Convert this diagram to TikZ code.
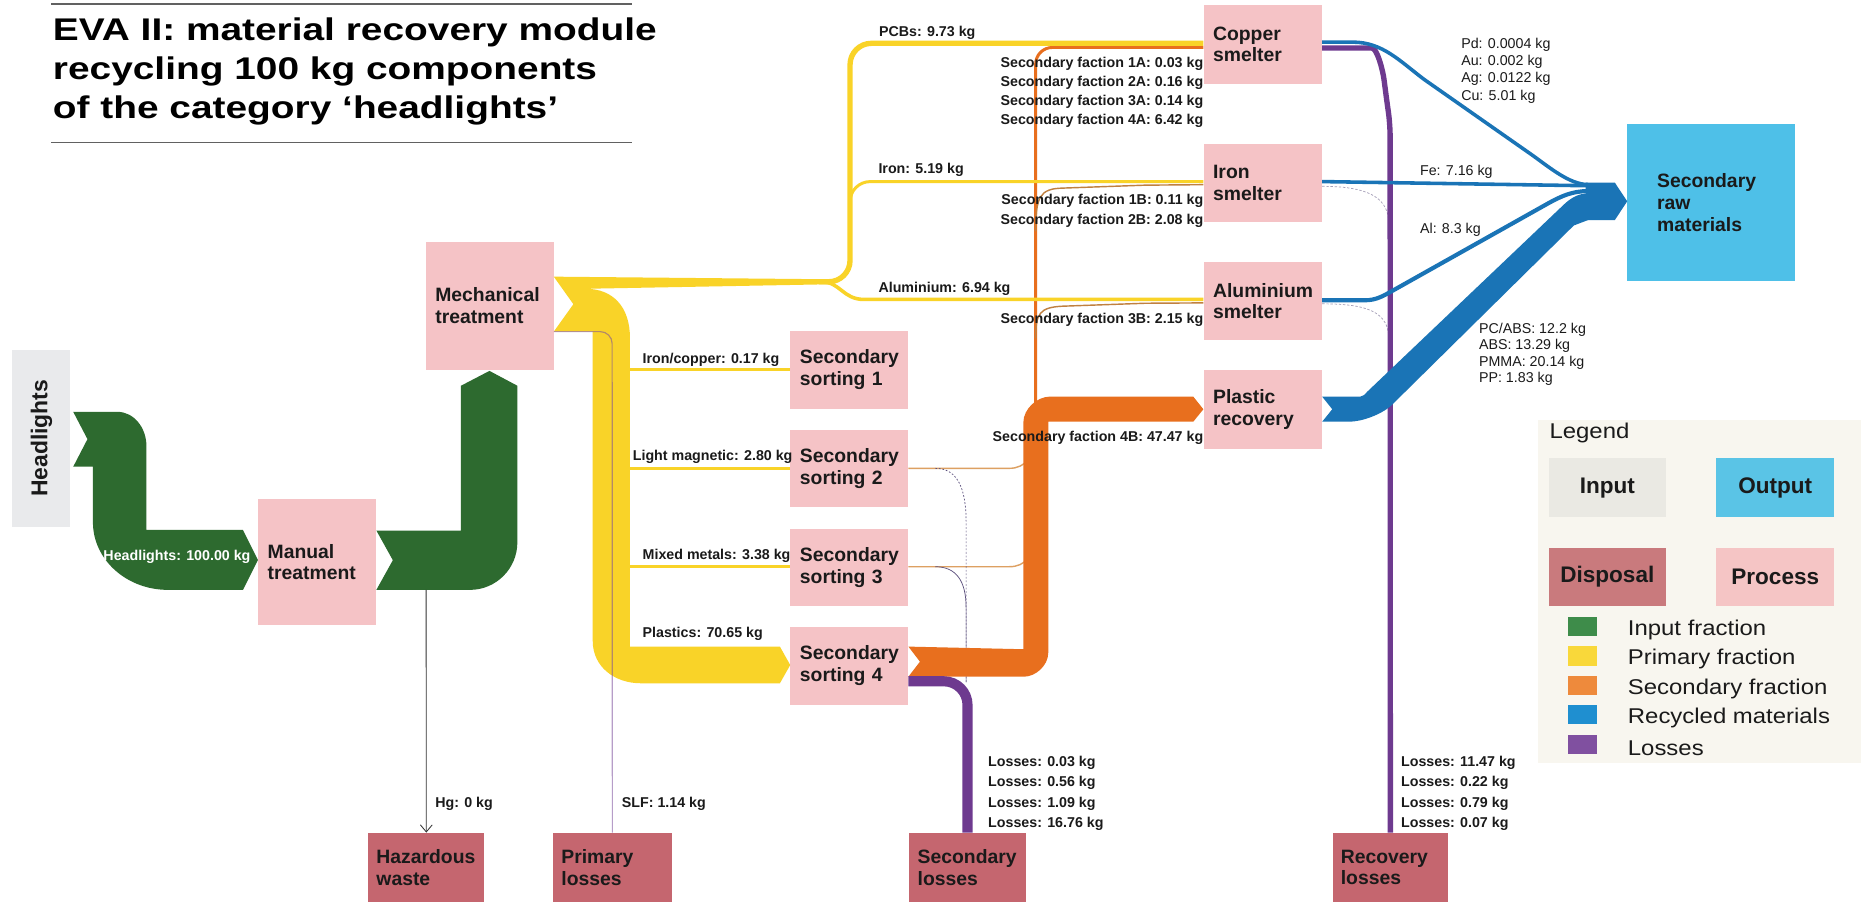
\documentclass[tikz,border=0pt]{standalone}
\usepackage{fontspec}
\setmainfont{Liberation Sans}
\newfontfamily\titlefont{Liberation Sans}[FakeStretch=1.24]
\newfontfamily\legfont{Liberation Sans}[FakeStretch=1.12]
\usetikzlibrary{arrows.meta,calc}
\hyphenpenalty=10000
\exhyphenpenalty=10000

\definecolor{procpink}{HTML}{F5C3C6}
\definecolor{disprose}{HTML}{C5666F}
\definecolor{inputgray}{HTML}{E9EAEC}
\definecolor{outcyan}{HTML}{4EC0E8}
\definecolor{flowgreen}{HTML}{2D6A2F}
\definecolor{flowyellow}{HTML}{F9D328}
\definecolor{floworange}{HTML}{E86F1E}
\definecolor{flowblue}{HTML}{1A74B6}
\definecolor{flowpurple}{HTML}{6E3A8F}
\definecolor{slfpurple}{HTML}{7B4E9C}
\definecolor{linebrown}{HTML}{C08040}
\definecolor{lineorange}{HTML}{DDA062}
\definecolor{lossline}{HTML}{5A4E7C}
\definecolor{legbg}{HTML}{F8F6EF}
\definecolor{leginput}{HTML}{EAE9E3}
\definecolor{legoutput}{HTML}{5AC4E6}
\definecolor{legdisp}{HTML}{C97A7D}
\definecolor{legproc}{HTML}{F5C5C5}
\definecolor{leggreen}{HTML}{3E8C4A}
\definecolor{legyellow}{HTML}{F9D83A}
\definecolor{legorange}{HTML}{EE8A3C}
\definecolor{legblue}{HTML}{1F8FD0}
\definecolor{legpurple}{HTML}{8050A0}
\definecolor{ink}{HTML}{1A1A1A}

\tikzset{
  box/.style={inner sep=0pt, inner xsep=8pt, anchor=north west, align=left,
    font=\fontsize{16.3}{18.3}\selectfont\bfseries, text=ink},
  proc/.style={box, fill=procpink},
  disp/.style={box, fill=disprose, inner xsep=7pt},
  lbl/.style={inner sep=0pt, font=\fontsize{12}{14}\selectfont\bfseries, text=ink},
  lblr/.style={inner sep=0pt, font=\fontsize{12}{14}\selectfont, text=ink},
  legbox/.style={inner sep=0pt, anchor=north west, font=\fontsize{19}{21}\selectfont\bfseries, text=ink},
  legtext/.style={inner sep=0pt, anchor=west, font=\legfont\fontsize{18}{20}\selectfont, text=ink},
  swatch/.style={inner sep=0pt, anchor=north west, minimum width=24.4pt, minimum height=16.4pt},
}

\begin{document}
\begin{tikzpicture}[x=1pt,y=-1pt]
\fill[white] (0,0) rectangle (1568,760);
\useasboundingbox (0,0) rectangle (1568,760);

% ---------- title ----------
\draw[black!62, line width=1.3pt] (43.3,3.4) -- (532.2,3.4);
\draw[black!62, line width=1.3pt] (43.3,120.2) -- (532.2,120.2);
\node[anchor=base west, inner sep=0pt, font=\titlefont\bfseries\fontsize{26.4}{32}\selectfont] (t1) at (44.4,34.3) {EVA II: material recovery module};
\node[anchor=base west, inner sep=0pt, font=\titlefont\bfseries\fontsize{26.4}{32}\selectfont] (t2) at (44.4,67.2) {recycling 100 kg components};
\node[anchor=base west, inner sep=0pt, font=\titlefont\bfseries\fontsize{26.4}{32}\selectfont] (t3) at (44.4,99.7) {of the category ‘headlights’};

% ---------- boxes ----------
\node[fill=inputgray, rotate=90, minimum width=148.8pt, minimum height=48.8pt, inner sep=0pt,
      font=\fontsize{19.3}{21}\selectfont\bfseries, text=ink] (hl) at (34.9,369.3) {Headlights};

\node[proc, minimum height=106.1pt, text width=83.4pt] (manual) at (217.3,420.4) {Manual\\treatment};
\node[proc, minimum height=107.6pt, text width=91.6pt] (mech) at (358.6,203.6) {Mechanical\\treatment};

\node[proc, minimum height=65.4pt, text width=83.2pt] (sort1) at (665.8,278.6) {Secondary\\sorting 1};
\node[proc, minimum height=65.4pt, text width=83.2pt] (sort2) at (665.8,361.7) {Secondary\\sorting 2};
\node[proc, minimum height=65.4pt, text width=83.2pt] (sort3) at (665.8,445.1) {Secondary\\sorting 3};
\node[proc, minimum height=65.4pt, text width=83.2pt] (sort4) at (665.8,528.0) {Secondary\\sorting 4};

\node[proc, minimum height=66pt, text width=83.7pt] (copper) at (1013.9,4.2) {Copper\\smelter};
\node[proc, minimum height=66pt, text width=83.7pt] (iron) at (1013.9,120.8) {Iron\\smelter};
\node[proc, minimum height=66pt, text width=83.7pt] (alu) at (1013.9,220.5) {Aluminium\\smelter};
\node[proc, minimum height=66pt, text width=83.7pt] (plastic) at (1013.9,311.7) {Plastic\\recovery};

\node[box, fill=outcyan, inner xsep=25pt, minimum height=132pt, text width=91pt] (srm) at (1371,104.5) {Secondary\\raw\\materials};

\node[disp, minimum height=58.5pt, text width=84pt] (haz) at (310,701.5) {Hazardous\\waste};
\node[disp, minimum height=58.5pt, text width=85.9pt] (prim) at (465.8,701.5) {Primary\\losses};
\node[disp, minimum height=58.5pt, text width=84pt] (secl) at (766,701.5) {Secondary\\losses};
\node[disp, minimum height=58.5pt, text width=83.5pt] (recl) at (1122.5,701.5) {Recovery\\losses};

% ---------- input fraction (green) ----------
\fill[flowgreen] (61.7,347) -- (99,347) .. controls (112.5,347) and (123.4,360) .. (123.4,376)
  -- (123.4,446.5) -- (204.7,446.5) -- (manual.west |- 0,471.8) -- (204.7,497) -- (141.5,497)
  .. controls (106.6,497) and (78.3,471.5) .. (78.3,440) -- (78.3,393.2) -- (61.7,393.2) -- (73.7,370) -- cycle;
\fill[flowgreen] (manual.east |- 0,447) -- (388.4,447) -- (388.4,325) -- (412.4,312.5) -- (435.9,325)
  -- (435.9,457) .. controls (435.9,479) and (418,497) .. (396,497) -- (manual.east |- 0,497) -- (331,472) -- cycle;

\coordinate (hgsrc) at (359,497);
\draw[black!80, line width=0.7pt, -{Straight Barb[length=6pt,width=10pt]}] (hgsrc) -- (haz.north);

% ---------- secondary fraction thin lines (under the bands) ----------
\draw[floworange, line width=2.5pt, rounded corners=14pt] (872.6,360) -- (872.6,40) -- (copper.west |- 0,40);
\draw[linebrown, line width=1.2pt] (872.6,195) .. controls (872.6,166) and (876,159) .. (895,158.5) -- (965,156) -- (iron.west |- 0,155.6);
\draw[linebrown, line width=1.2pt] (872.6,285) .. controls (872.6,264) and (876,259) .. (895,258) -- (965,255.5) -- (alu.west |- 0,255.2);
\draw[lineorange, line width=1.2pt] (sort2.east |- 0,394.6) -- (850,394.6) .. controls (858,394.6) and (862,392) .. (867,387);
\draw[lineorange, line width=1.2pt] (sort3.east |- 0,477.5) -- (850,477.5) .. controls (858,477.5) and (862,475) .. (867,470);

% ---------- losses thin lines ----------
\draw[lossline, line width=0.6pt, dash pattern=on 1.5pt off 1.5pt] (788,394.6) .. controls (806,394.6) and (814,410) .. (814,440) -- (814,575);
\draw[lossline, line width=0.6pt] (788,477.5) .. controls (806,477.5) and (814,490) .. (814,512) -- (814,575);
\draw[lossline!55, line width=0.6pt, dash pattern=on 2pt off 1.5pt] (iron.east |- 0,157) .. controls (1150,157) and (1168,165) .. (1170,185);
\draw[lossline!55, line width=0.6pt, dash pattern=on 2pt off 1.5pt] (alu.east |- 0,256) .. controls (1150,256) and (1168,262) .. (1170,282);

% ---------- primary fraction (yellow) ----------
\fill[flowyellow] (mech.east |- 0,233.1) -- (699.3,235.3) -- (699.3,239.5) -- (494,243.3)
  .. controls (516,243.5) and (530.8,258) .. (530.8,285) -- (530.8,544.8) -- (657.1,544.8)
  -- (sort4.west |- 0,560.3) -- (657.1,575.7) -- (540,575.7) .. controls (518,575.7) and (499.4,562) .. (499.4,540)
  -- (499.4,279.4) -- (mech.east |- 0,279.4) -- (483.1,256.3) -- cycle;
\draw[flowyellow, line width=4.5pt, rounded corners=18pt] (690,237.4) -- (716.2,237.4) -- (716.2,36.5) -- (copper.west |- 0,36.5);
\draw[flowyellow, line width=2.5pt, rounded corners=17pt] (716.2,200) -- (716.2,153) -- (iron.west |- 0,153);
\draw[flowyellow, line width=3pt] (692,237.4) .. controls (708,237.4) and (710,252.3) .. (728,252.3) -- (alu.west |- 0,252.3);
\draw[flowyellow, line width=2pt] (530,311.2) -- (sort1.west |- 0,311.2);
\draw[flowyellow, line width=2pt] (530,394.6) -- (sort2.west |- 0,394.6);
\draw[flowyellow, line width=2pt] (530,477.2) -- (sort3.west |- 0,477.2);

% SLF to primary losses
\draw[slfpurple, opacity=0.55, line width=1pt, rounded corners=10pt] (mech.east |- 0,279.4) -- (515.75,279.4) -- (prim.north);

% ---------- secondary fraction band (orange) ----------
\fill[floworange] (sort4.east |- 0,544.8) -- (862.2,547) -- (862.2,356.2) .. controls (862.2,344.1) and (874.3,334.2) .. (884.2,334.2)
  -- (1005.4,334.2) -- (plastic.west |- 0,344.8) -- (1005.4,355.3) -- (883.2,355.3) -- (883.2,550)
  .. controls (883.2,561.1) and (872.1,570.1) .. (863.1,570.1) -- (sort4.east |- 0,570.1) -- (775.1,557.5) -- cycle;

% ---------- losses (purple) ----------
\draw[flowpurple, line width=8.5pt, rounded corners=20pt] (sort4.east |- 0,574) -- (secl.north |- 0,574) -- (secl.north);
\draw[flowpurple, line width=4.5pt, rounded corners=10pt] (copper.east |- 0,40.5) -- (1146,40.5) .. controls (1160,40.5) and (1165,58) .. (1167.5,78) -- (1171.25,105) -- (recl.north);

% ---------- recycled materials (blue) ----------
\draw[flowblue, line width=3pt] (copper.east |- 0,35.5) -- (1140,35.5) .. controls (1165,35.5) and (1180,52) .. (1200,67) -- (1290,130) .. controls (1304,139.8) and (1322,155.5) .. (1338,155.5);
\draw[flowblue, line width=3pt] (iron.east |- 0,153) -- (1338,156.5);
\draw[flowblue, line width=3.5pt] (alu.east |- 0,253) -- (1150,253) .. controls (1160,253) and (1166,249) .. (1175,244) -- (1305,171) .. controls (1316,165) and (1325,161) .. (1338,161);
\fill[flowblue] (plastic.east |- 0,334.2) -- (1146,334.2) .. controls (1149,334.2) and (1150,332) .. (1152,330) -- (1318,172)
  .. controls (1324,166.5) and (1330,163) .. (1338,163) -- (1338,185.4) -- (1326,190) -- (1172,341.9)
  .. controls (1163.4,349.3) and (1147.7,355.3) .. (1136.7,355.3) -- (plastic.east |- 0,355.3) -- (1122.5,344.8) -- cycle;
\fill[flowblue] (1336,153.9) -- (1360.6,153.9) -- (srm.west |- 0,169.6) -- (1360.6,185.4) -- (1336,185.4) -- cycle;

% ---------- flow labels ----------
\node[lbl, text=white, anchor=west] (lhl) at (87,469) {Headlights: 100.00 kg};
\node[lbl, anchor=west] (lpcb) at (740.5,28) {PCBs: 9.73 kg};
\node[lbl, anchor=west] (lfe) at (740,143.2) {Iron: 5.19 kg};
\node[lbl, anchor=west] (lal) at (740,243) {Aluminium: 6.94 kg};
\node[lbl, anchor=east] (l1a) at (1014,53.4) {Secondary faction 1A: 0.03 kg};
\node[lbl, anchor=east] (l2a) at (1014,69.6) {Secondary faction 2A: 0.16 kg};
\node[lbl, anchor=east] (l3a) at (1014,85.8) {Secondary faction 3A: 0.14 kg};
\node[lbl, anchor=east] (l4a) at (1014,102) {Secondary faction 4A: 6.42 kg};
\node[lbl, anchor=east] (l1b) at (1014,169.4) {Secondary faction 1B: 0.11 kg};
\node[lbl, anchor=east] (l2b) at (1014,185.9) {Secondary faction 2B: 2.08 kg};
\node[lbl, anchor=east] (l3b) at (1014,269.6) {Secondary faction 3B: 2.15 kg};
\node[lbl, anchor=east] (l4b) at (1014,369.3) {Secondary faction 4B: 47.47 kg};
\node[lbl, anchor=west] (lic) at (541.3,302.8) {Iron/copper: 0.17 kg};
\node[lbl, anchor=west] (llm) at (533,384.8) {Light magnetic: 2.80 kg};
\node[lbl, anchor=west] (lmm) at (541.3,468.4) {Mixed metals: 3.38 kg};
\node[lbl, anchor=west] (lpl) at (541.3,534.4) {Plastics: 70.65 kg};
\node[lbl, anchor=west] (lhg) at (366.6,677.4) {Hg: 0 kg};
\node[lbl, anchor=west] (lslf) at (523.8,677.4) {SLF: 1.14 kg};
\node[lbl, anchor=west] (ls1) at (832.4,643) {Losses: 0.03 kg};
\node[lbl, anchor=west] (ls2) at (832.4,660) {Losses: 0.56 kg};
\node[lbl, anchor=west] (ls3) at (832.4,677) {Losses: 1.09 kg};
\node[lbl, anchor=west] (ls4) at (832.4,694) {Losses: 16.76 kg};
\node[lbl, anchor=west] (lr1) at (1180.3,643) {Losses: 11.47 kg};
\node[lbl, anchor=west] (lr2) at (1180.3,660) {Losses: 0.22 kg};
\node[lbl, anchor=west] (lr3) at (1180.3,677) {Losses: 0.79 kg};
\node[lbl, anchor=west] (lr4) at (1180.3,694) {Losses: 0.07 kg};
\node[lblr, anchor=west] (lpd) at (1231,37.9) {Pd: 0.0004 kg};
\node[lblr, anchor=west] (lau) at (1231,52.5) {Au: 0.002 kg};
\node[lblr, anchor=west] (lag) at (1231,66.8) {Ag: 0.0122 kg};
\node[lblr, anchor=west] (lcu) at (1231,81.4) {Cu: 5.01 kg};
\node[lblr, anchor=west] (lfe2) at (1196.3,144.6) {Fe: 7.16 kg};
\node[lblr, anchor=west] (lal2) at (1196.3,193.8) {Al: 8.3 kg};
\node[lblr, anchor=west] (lpc) at (1246,277.5) {PC/ABS: 12.2 kg};
\node[lblr, anchor=west] (labs) at (1246,291.5) {ABS: 13.29 kg};
\node[lblr, anchor=west] (lpmma) at (1246,305.3) {PMMA: 20.14 kg};
\node[lblr, anchor=west] (lpp) at (1246,319.3) {PP: 1.83 kg};

% ---------- legend ----------
\node[fill=legbg, anchor=north west, inner sep=0pt, minimum width=272pt, minimum height=289.1pt] (legend) at (1296,353.9) {};
\node[legtext] (legtitle) at (1305.4,365) {Legend};
\node[legbox, fill=leginput, minimum width=99.1pt, minimum height=49.3pt] (kin) at (1304.5,386) {Input};
\node[legbox, fill=legoutput, minimum width=99.5pt, minimum height=49.3pt] (kout) at (1445.8,386) {Output};
\node[legbox, fill=legdisp, minimum width=99.1pt, minimum height=49.2pt] (kdisp) at (1304.5,461.4) {Disposal};
\node[legbox, fill=legproc, minimum width=99.5pt, minimum height=49.2pt] (kproc) at (1445.8,461.4) {Process};
\node[swatch, fill=leggreen] (sw1) at (1320.8,519.6) {};
\node[swatch, fill=legyellow] (sw2) at (1320.8,544.3) {};
\node[swatch, fill=legorange] (sw3) at (1320.8,569) {};
\node[swatch, fill=legblue] (sw4) at (1320.8,593.7) {};
\node[swatch, fill=legpurple] (sw5) at (1320.8,618.7) {};
\node[legtext] (kt1) at (1371.4,530.8) {Input fraction};
\node[legtext] (kt2) at (1371.4,555.5) {Primary fraction};
\node[legtext] (kt3) at (1371.4,580.2) {Secondary fraction};
\node[legtext] (kt4) at (1371.4,605.2) {Recycled materials};
\node[legtext] (kt5) at (1371.4,630.5) {Losses};
\end{tikzpicture}
\end{document}
